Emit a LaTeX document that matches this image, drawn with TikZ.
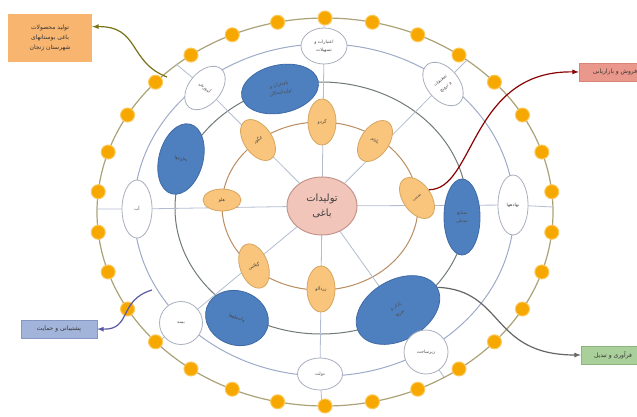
\documentclass[tikz,border=0pt]{standalone}
\usepackage{fontspec}
\newfontfamily\arabicfont[Script=Arabic]{DejaVu Sans}
\TeXXeTstate=1
\usepackage{xcolor}
\usepackage{tikz}
\usetikzlibrary{shapes.geometric}
\usetikzlibrary{backgrounds}

\newcommand{\fatxt}[1]{\beginR #1\endR}

\definecolor{dotorange}{HTML}{F6A800}
\definecolor{dotedge}{HTML}{FBC95A}
\definecolor{ringolive}{HTML}{ABA277}
\definecolor{ringblue}{HTML}{9DABC9}
\definecolor{ringgrey}{HTML}{707A78}
\definecolor{ringbrown}{HTML}{B98D62}
\definecolor{spokeblue}{HTML}{B3BDD0}
\definecolor{prodfill}{HTML}{F9C57D}
\definecolor{prodline}{HTML}{D6A660}
\definecolor{actfill}{HTML}{4E7FBE}
\definecolor{actline}{HTML}{3F6AA6}
\definecolor{supline}{HTML}{A8AFBE}
\definecolor{ctrfill}{HTML}{F1C5B9}
\definecolor{ctrline}{HTML}{C4958C}
\definecolor{tlfill}{HTML}{F8B570}
\definecolor{rfill}{HTML}{E9988B}
\definecolor{rline}{HTML}{D98476}
\definecolor{blfill}{HTML}{A2B4D9}
\definecolor{blline}{HTML}{8397C2}
\definecolor{brfill}{HTML}{A9CF9A}
\definecolor{brline}{HTML}{8DB47E}

\begin{document}
\begin{tikzpicture}[x=1pt,y=-1pt,
	prod/.style={shape=ellipse,draw=prodline,fill=prodfill,line width=.8pt,inner sep=0pt,minimum width=28,minimum height=46,align=center,font=\arabicfont\fontsize{4.5}{8}\selectfont,text=black!75},
	act/.style={shape=ellipse,draw=actline,fill=actfill,line width=.8pt,inner sep=0pt,align=center,font=\arabicfont\fontsize{4.5}{8}\selectfont,text=black!70},
	sup/.style={shape=ellipse,draw=supline,fill=white,line width=.8pt,inner sep=0pt,minimum width=32,minimum height=50,align=center,font=\arabicfont\fontsize{4.5}{8}\selectfont,text=black!70},
	ctr/.style={shape=ellipse,draw=ctrline,fill=ctrfill,line width=1pt,inner sep=0pt,minimum width=70,minimum height=58,align=center,font=\arabicfont\fontsize{10}{15}\selectfont,text=black!75},
	dot/.style={shape=circle,fill=dotorange,draw=dotedge,line width=1pt,inner sep=0pt,minimum size=14},
	tagbox/.style={shape=rectangle,inner sep=2pt,align=center,font=\arabicfont\fontsize{6}{10}\selectfont,text=black!80},
	spoke/.style={draw=spokeblue,line width=.8pt}]

	\path[use as bounding box] (0,0) rectangle (637,416);

	%% centre
	\node[ctr] (ctr) at (322,206) {\fatxt{تولیدات}\\\fatxt{باغی}};

	%% products
	\node[prod,rotate=35] (or1) at (258,140) {\fatxt{انگور}};
	\node[prod] (or2) at (322,122) {\fatxt{گردو}};
	\node[prod,rotate=-35] (or3) at (375,141) {\fatxt{بادام}};
	\node[prod,rotate=35] (or4) at (417,198) {\fatxt{سیب}};
	\node[prod] (or5) at (321,289) {\fatxt{زردآلو}};
	\node[prod,rotate=20] (or6) at (254,266) {\fatxt{گیلاس}};
	\node[prod,minimum width=38,minimum height=22] (or7) at (222,200) {\fatxt{هلو}};

	%% actors
	\node[act,minimum width=78,minimum height=48,rotate=12] (bl1) at (280,89) {\fatxt{باغداران و}\\\fatxt{تولیدکنندگان}};
	\node[act,minimum width=44,minimum height=72,rotate=-15] (bl2) at (181,159) {\fatxt{تعاونیها}};
	\node[act,minimum width=36,minimum height=76] (bl3) at (462,217) {\fatxt{صنایع}\\\fatxt{تبدیلی}};
	\node[act,minimum width=64,minimum height=54,rotate=-20] (bl4) at (237,318) {\fatxt{واسطهها}};
	\node[act,minimum width=90,minimum height=60,rotate=30] (bl5) at (398,310) {\fatxt{بازار و}\\\fatxt{توزیع}};

	%% support
	\node[sup,minimum width=46,minimum height=36] (wh1) at (324,46) {\fatxt{اعتبارات و}\\\fatxt{تسهیلات}};
	\node[sup,rotate=-40] (wh2) at (205,88) {\fatxt{آموزش}};
	\node[sup,rotate=40] (wh3) at (443,84) {\fatxt{تحقیقات}\\\fatxt{و ترویج}};
	\node[sup,minimum width=30,minimum height=58] (wh4) at (137,209) {\fatxt{آب}};
	\node[sup,minimum width=30,minimum height=60] (wh5) at (513,205) {\fatxt{نهادهها}};
	\node[sup,minimum width=43,minimum height=43] (wh6) at (181,323) {\fatxt{بیمه}};
	\node[sup,minimum width=45,minimum height=32] (wh7) at (320,374) {\fatxt{دولت}};
	\node[sup,minimum width=44,minimum height=44] (wh8) at (426,352) {\fatxt{زیرساخت}};

	%% outer ring dots
	\begin{scope}[shift={(325,212)}]
		\foreach \a in {6,18,...,354}
			\node[dot] (d\a) at (\a:228 and 194) {};
	\end{scope}

	%% ring ends of spokes
	\coordinate (o1) at (324,18);
	\coordinate (o2) at (176,64);
	\coordinate (o3) at (467,60);
	\coordinate (o4) at (97,209);
	\coordinate (o5) at (553,207);
	\coordinate (o6) at (157,343);
	\coordinate (o7) at (322,406);
	\coordinate (o8) at (444,377);

	\begin{pgfonlayer}{background}
		\fill[white] (0,0) rectangle (637,416);
		\draw[ringolive,line width=1.2pt] (325,212) ellipse [x radius=228,y radius=194];
		\draw[ringblue,line width=1pt] (324,210) ellipse [x radius=190,y radius=166];
		\draw[ringgrey,line width=1pt] (321,208) ellipse [x radius=146,y radius=126];
		\draw[ringbrown,line width=1pt] (320,206) ellipse [x radius=98,y radius=84];
		\foreach \w/\o in {wh1/o1,wh2/o2,wh3/o3,wh4/o4,wh5/o5,wh6/o6,wh7/o7,wh8/o8}
			\draw[spoke] (ctr.center) -- (\w.center) -- (\o);
	\end{pgfonlayer}

	%% side boxes
	\node[tagbox,fill=tlfill,minimum width=84,minimum height=48] (boxtl) at (50,38) {\fatxt{تولید محصولات}\\\fatxt{باغی بوستانهای}\\\fatxt{شهرستان زنجان}};
	\node[tagbox,fill=rfill,draw=rline,minimum width=72,minimum height=18] (boxr) at (615,72) {\fatxt{فروش و بازاریابی}};
	\node[tagbox,fill=blfill,draw=blline,minimum width=76,minimum height=18] (boxbl) at (59,329) {\fatxt{پشتیبانی و حمایت}};
	\node[tagbox,fill=brfill,draw=brline,minimum width=64,minimum height=18] (boxbr) at (613,355) {\fatxt{فرآوری و تبدیل}};

	%% lines
	\coordinate (p1) at (167,77);
	\coordinate (p3) at (152,290);
	\draw[-latex,line width=1.2pt,olive!80!black] (p1) .. controls (128,62) and (140,26) .. (boxtl.15);
	\draw[-latex,line width=1.2pt,red!55!black] (or4.east) .. controls (475,190) and (470,70) .. (boxr.west);
	\draw[-latex,line width=1.2pt,blue!30!gray] (p3) .. controls (118,300) and (132,330) .. (boxbl.east);
	\draw[-latex,line width=1.2pt,gray!80!black] (bl5.east) .. controls (505,290) and (490,355) .. (boxbr.west);
\end{tikzpicture}
\end{document}
